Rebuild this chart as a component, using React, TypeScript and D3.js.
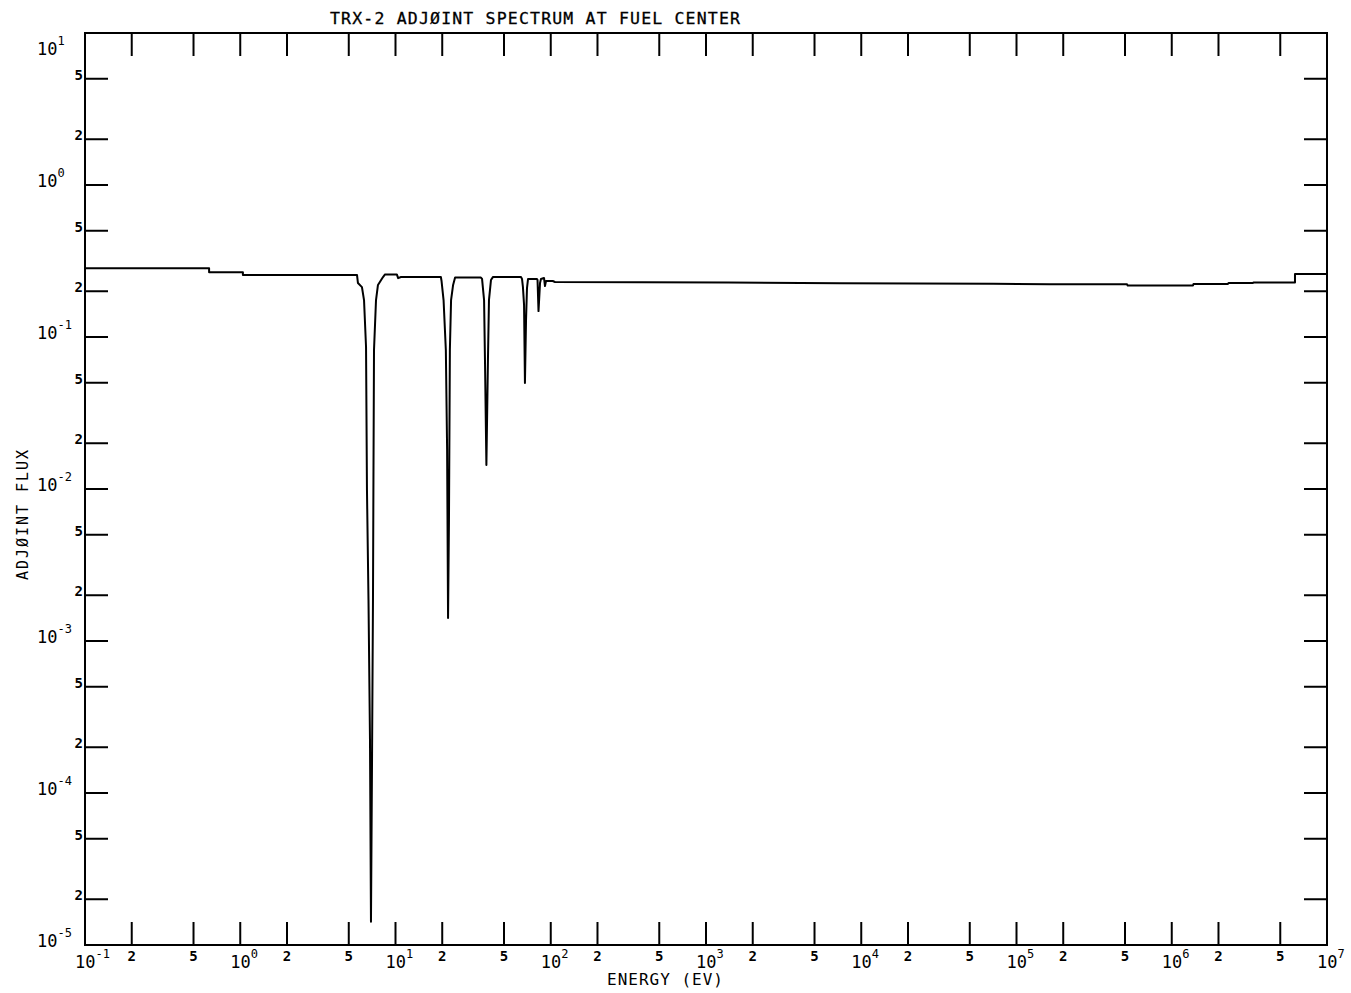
import React from 'react';
import * as d3 from 'd3';

const W = 1351, H = 993;
const FRAME = { l: 85, r: 1327, t: 33, b: 945 };

// energy (eV), adjoint flux
const THERMAL = [[0.1, 0.283], [0.63, 0.283], [0.63, 0.267], [1.04, 0.267], [1.04, 0.256], [5.65, 0.256]];
const DIP_6_7 = [
  [5.73, 0.2265], [6.08, 0.213], [6.27, 0.175], [6.46, 0.0859], [6.55, 0.00984], [6.7, 0.00186],
  [6.85, 2.23e-4], [6.95, 1.42e-5], [7.06, 1.65e-4], [7.16, 0.00186], [7.21, 0.0115], [7.27, 0.0821],
  [7.49, 0.175], [7.71, 0.22], [8.31, 0.248], [8.56, 0.258], [10.2, 0.258], [10.4, 0.244], [10.85, 0.248], [19.6, 0.248],
];
const DIP_21 = [
  [19.8, 0.2335], [20.4, 0.175], [21.1, 0.0821], [21.5, 0.0181], [21.8, 1.415e-3], [22.1, 0.00625],
  [22.4, 0.0821], [22.8, 0.175], [23.5, 0.22], [24.2, 0.246], [35.5, 0.246],
];
const DIP_37 = [
  [36.1, 0.241], [37.2, 0.175], [37.7, 0.0706], [38.5, 0.0144], [39.4, 0.0706], [40.0, 0.175],
  [41.2, 0.237], [42.5, 0.2485], [64.3, 0.2485],
];
const DIP_66 = [
  [65.3, 0.241], [66.2, 0.213], [67.3, 0.1626], [68.2, 0.0498], [69.3, 0.129], [70.3, 0.21], [71.4, 0.241], [81.5, 0.241],
];
const DIP_81 = [
  [82.2, 0.237], [83.4, 0.148], [85.3, 0.2265], [86.5, 0.241], [90.5, 0.2445], [91.8, 0.2165], [93.2, 0.2335], [103, 0.2335],
];
const FAST = [
  [106.5, 0.23], [1386, 0.2284], [7295, 0.2256], [7.06e4, 0.2242], [1.64e5, 0.2222], [5.15e5, 0.2222],
  [5.2e5, 0.2183], [1.37e6, 0.2183], [1.38e6, 0.2234], [2.3e6, 0.2234], [2.32e6, 0.2265], [3.33e6, 0.2265],
  [3.36e6, 0.2284], [6.22e6, 0.2284], [6.22e6, 0.2597], [1e7, 0.2597],
];

const X_DECADES = [-1, 0, 1, 2, 3, 4, 5, 6, 7];
const Y_DECADES = [-5, -4, -3, -2, -1, 0, 1];
const MINOR = [2, 5];

const TITLE = 'TRX-2 ADJØINT SPECTRUM AT FUEL CENTER';
const X_TITLE = 'ENERGY  (EV)';
const Y_TITLE = 'ADJØINT FLUX';

const FONT = "'DejaVu Sans Mono', monospace";

export default function App() {
  const x = d3.scaleLog().domain([1e-1, 1e7]).range([FRAME.l, FRAME.r]);
  const y = d3.scaleLog().domain([1e-5, 1e1]).range([FRAME.b, FRAME.t]);
  const pts = [...THERMAL, ...DIP_6_7, ...DIP_21, ...DIP_37, ...DIP_66, ...DIP_81, ...FAST];
  const line = d3.line<number[]>().x(d => x(d[0])).y(d => y(d[1]));

  // tick values at 1, 2, 5 of every decade
  const xTicks: { v: number; m: number; e: number }[] = [];
  X_DECADES.forEach(e => {
    xTicks.push({ v: Math.pow(10, e), m: 1, e });
    if (e < 7) MINOR.forEach(m => xTicks.push({ v: m * Math.pow(10, e), m, e }));
  });
  const yTicks: { v: number; m: number; e: number }[] = [];
  Y_DECADES.forEach(e => {
    yTicks.push({ v: Math.pow(10, e), m: 1, e });
    if (e < 1) MINOR.forEach(m => yTicks.push({ v: m * Math.pow(10, e), m, e }));
  });
  const TL = 23;

  return (
    <svg width={W} height={H} style={{ position: 'absolute', left: 0, top: 0, background: '#fff' }}>
      <rect x={0} y={0} width={W} height={H} fill="#fff" />
      <text x={330} y={24} textLength={410} lengthAdjust="spacing" fontFamily={FONT} fontSize={16.5} fill="#000" stroke="#000" strokeWidth={0.3}>{TITLE}</text>

      <rect x={FRAME.l} y={FRAME.t} width={FRAME.r - FRAME.l} height={FRAME.b - FRAME.t} fill="none" stroke="#000" strokeWidth={2} />

      {xTicks.filter(t => t.e > -1 && t.e < 7 || t.m !== 1).map((t, i) => (
        <g key={'xt' + i} stroke="#000" strokeWidth={2}>
          <line x1={x(t.v)} x2={x(t.v)} y1={FRAME.b} y2={FRAME.b - TL} />
          <line x1={x(t.v)} x2={x(t.v)} y1={FRAME.t} y2={FRAME.t + TL} />
        </g>
      ))}
      {yTicks.filter(t => t.e > -5 && t.e < 1 || t.m !== 1).map((t, i) => (
        <g key={'yt' + i} stroke="#000" strokeWidth={2}>
          <line x1={FRAME.l} x2={FRAME.l + TL} y1={y(t.v)} y2={y(t.v)} />
          <line x1={FRAME.r} x2={FRAME.r - TL} y1={y(t.v)} y2={y(t.v)} />
        </g>
      ))}

      {xTicks.map((t, i) => t.m === 1 ? (
        <text key={'xl' + i} x={x(t.v) - 10} y={FRAME.b + 23} fontFamily={FONT} fontSize={17} fill="#000">
          10<tspan dy={-10} fontSize={12}>{t.e}</tspan>
        </text>
      ) : (
        <text key={'xl' + i} x={x(t.v)} y={FRAME.b + 16} textAnchor="middle" fontFamily={FONT} fontSize={14} fontWeight="bold" fill="#000">{t.m}</text>
      ))}
      {yTicks.map((t, i) => t.m === 1 ? (
        <text key={'yl' + i} x={37} y={t.e === 1 ? 55 : y(t.v) + 2} fontFamily={FONT} fontSize={17} fill="#000">
          10<tspan dy={-10} fontSize={12}>{t.e}</tspan>
        </text>
      ) : (
        <text key={'yl' + i} x={83} y={y(t.v) + 1} textAnchor="end" fontFamily={FONT} fontSize={14} fontWeight="bold" fill="#000">{t.m}</text>
      ))}

      <text x={607} y={985} textLength={116} lengthAdjust="spacing" fontFamily={FONT} fontSize={16} fill="#000">{X_TITLE}</text>
      <text transform="translate(28,580) rotate(-90)" textLength={130} lengthAdjust="spacing" fontFamily={FONT} fontSize={15} fill="#000">{Y_TITLE}</text>

      <path d={line(pts) || ''} fill="none" stroke="#000" strokeWidth={2} strokeLinejoin="round" />
    </svg>
  );
}
